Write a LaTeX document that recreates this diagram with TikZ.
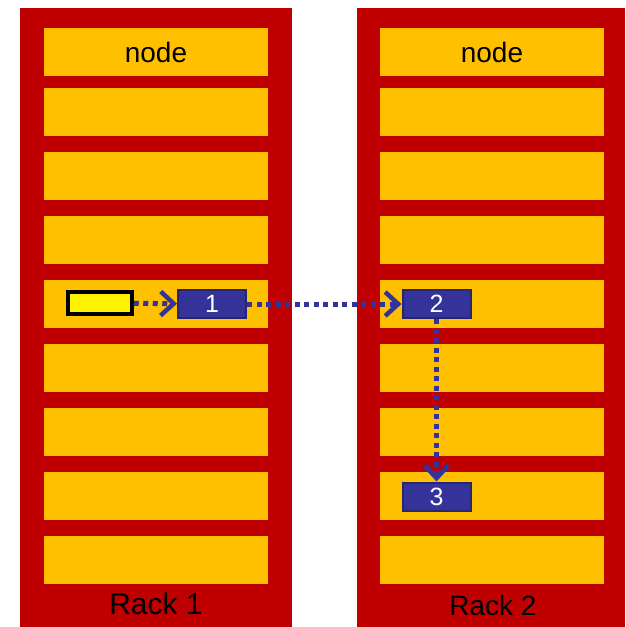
\documentclass[tikz,border=0pt]{standalone}
\usepackage{fontspec}
\setmainfont{Liberation Sans}
\usetikzlibrary{arrows.meta}

\definecolor{rackred}{HTML}{C00000}
\definecolor{slotorange}{HTML}{FFC000}
\definecolor{blockblue}{HTML}{333399}
\definecolor{blockedge}{HTML}{262673}

\begin{document}
\begin{tikzpicture}[x=1pt, y=-1pt,
    slot/.style={fill=slotorange, minimum width=224pt, minimum height=48pt, inner sep=0pt,
      font=\fontsize{28}{28}\selectfont},
    block/.style={fill=blockblue, draw=blockedge, line width=2pt, minimum width=68pt,
      minimum height=28pt, inner sep=0pt, text=white, font=\fontsize{25}{25}\selectfont},
    hop/.style={blockblue, line width=5pt, dash pattern=on 5pt off 4.5pt,
      -{Straight Barb[length=13pt, width=24pt, line width=4.5pt]}}]
    \useasboundingbox (0,0) rectangle (625,627);
    \fill[rackred] (20,8) rectangle (292,627);
    \fill[rackred] (357,8) rectangle (625,627);
    \foreach \y [count=\i] in {52,112,176,240,304,368,432,496,560} {
      \node[slot] (a\i) at (156,\y) {};
      \node[slot] (b\i) at (492,\y) {};
    }
    \node at (a1) {\fontsize{28}{28}\selectfont node};
    \node at (b1) {\fontsize{28}{28}\selectfont node};
    \node (rack1) at (156,604) {\fontsize{30}{30}\selectfont Rack 1};
    \node (rack2) at (493,605) {\fontsize{28}{28}\selectfont Rack 2};
    % the block and its copies
    \node[fill=yellow, draw=black, line width=3.5pt, minimum width=64pt, minimum height=22pt,
      inner sep=0pt] (data) at (100,303) {};
    \node[block] (copy1) at (212,304) {1};
    \node[block] (copy2) at (436.5,304) {2};
    \node[block] (copy3) at (436.5,496.5) {3};
    \draw[hop] (data) -- (copy1);
    \draw[hop] (copy1) -- (copy2);
    \draw[hop] (copy2) -- (copy3);
  \end{tikzpicture}
\end{document}
